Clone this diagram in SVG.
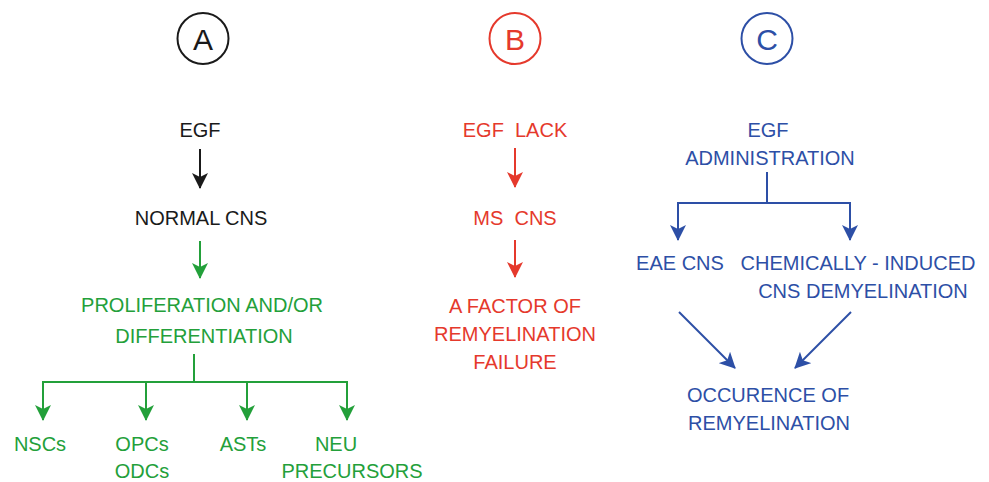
<svg xmlns="http://www.w3.org/2000/svg" width="989" height="482" viewBox="0 0 989 482">
<defs>
<style>
text{font-family:"Liberation Sans",Arial,sans-serif;font-size:20px;text-anchor:middle}
.k{fill:#1a1a1a}.g{fill:#23a03a}.r{fill:#e5392c}.b{fill:#2d4fa6}
.lk{stroke:#1a1a1a}.lg{stroke:#23a03a}.lr{stroke:#e5392c}.lb{stroke:#2d4fa6}
line,polyline,path.c{fill:none;stroke-width:2}
circle{fill:#fff;stroke-width:2}
.big{font-size:30px}
</style>
<marker id="ak" viewBox="0 0 16 16" refX="15" refY="8" markerWidth="16" markerHeight="16" markerUnits="userSpaceOnUse" orient="auto"><path d="M0,0 L16,8 L0,16 L4,8 z" fill="#1a1a1a"/></marker>
<marker id="ag" viewBox="0 0 16 16" refX="15" refY="8" markerWidth="16" markerHeight="16" markerUnits="userSpaceOnUse" orient="auto"><path d="M0,0 L16,8 L0,16 L4,8 z" fill="#23a03a"/></marker>
<marker id="ar" viewBox="0 0 16 16" refX="15" refY="8" markerWidth="16" markerHeight="16" markerUnits="userSpaceOnUse" orient="auto"><path d="M0,0 L16,8 L0,16 L4,8 z" fill="#e5392c"/></marker>
<marker id="ab" viewBox="0 0 16 16" refX="15" refY="8" markerWidth="16" markerHeight="16" markerUnits="userSpaceOnUse" orient="auto"><path d="M0,0 L16,8 L0,16 L4,8 z" fill="#2d4fa6"/></marker>
</defs>

<g id="labelA"><circle cx="203" cy="38.5" r="25.5" stroke="#1a1a1a"/><text class="k big" x="203" y="49.5">A</text></g>
<g id="labelB"><circle cx="515" cy="38.5" r="25.5" stroke="#e5392c"/><text class="r big" x="515" y="49.5">B</text></g>
<g id="labelC"><circle cx="767" cy="38.5" r="25.5" stroke="#2d4fa6"/><text class="b big" x="767" y="49.5">C</text></g>

<g id="connectors">
<line class="lk" x1="200" y1="149" x2="200" y2="188" marker-end="url(#ak)"/>
<line class="lg" x1="200" y1="241" x2="200" y2="278" marker-end="url(#ag)"/>
<line class="lg" x1="194" y1="354" x2="194" y2="382"/>
<line class="lg" x1="42" y1="382" x2="348" y2="382"/>
<line class="lg" x1="43" y1="381" x2="43" y2="420" marker-end="url(#ag)"/>
<line class="lg" x1="146" y1="381" x2="146" y2="420" marker-end="url(#ag)"/>
<line class="lg" x1="247" y1="381" x2="247" y2="420" marker-end="url(#ag)"/>
<line class="lg" x1="347" y1="381" x2="347" y2="420" marker-end="url(#ag)"/>
<line class="lr" x1="515" y1="148" x2="515" y2="187" marker-end="url(#ar)"/>
<line class="lr" x1="515" y1="240" x2="515" y2="277" marker-end="url(#ar)"/>
<line class="lb" x1="767" y1="172" x2="767" y2="203"/>
<line class="lb" x1="677" y1="203" x2="851" y2="203"/>
<line class="lb" x1="678" y1="202" x2="678" y2="240" marker-end="url(#ab)"/>
<line class="lb" x1="850" y1="202" x2="850" y2="240" marker-end="url(#ab)"/>
<line class="lb" x1="679" y1="312" x2="735" y2="368" marker-end="url(#ab)"/>
<line class="lb" x1="851" y1="312" x2="795" y2="368" marker-end="url(#ab)"/>
</g>

<g id="egfA"><text class="k" x="200" y="137">EGF</text></g>
<g id="normalCNS"><text class="k" x="201" y="225">NORMAL CNS</text></g>
<g id="prolif"><text class="g" x="202" y="312">PROLIFERATION AND/OR</text><text class="g" x="204" y="343">DIFFERENTIATION</text></g>
<g id="nscs"><text class="g" x="40" y="451">NSCs</text></g>
<g id="opcs"><text class="g" x="142" y="451">OPCs</text><text class="g" x="142" y="478">ODCs</text></g>
<g id="asts"><text class="g" x="243" y="451">ASTs</text></g>
<g id="neu"><text class="g" x="336" y="451">NEU</text><text class="g" x="352" y="478">PRECURSORS</text></g>

<g id="egfLack"><text class="r" x="515" y="137" xml:space="preserve">EGF  LACK</text></g>
<g id="msCNS"><text class="r" x="515" y="225" xml:space="preserve">MS  CNS</text></g>
<g id="factor"><text class="r" x="515" y="313">A FACTOR OF</text><text class="r" x="515" y="341">REMYELINATION</text><text class="r" x="515" y="369">FAILURE</text></g>

<g id="egfAdmin"><text class="b" x="768" y="137">EGF</text><text class="b" x="770" y="165">ADMINISTRATION</text></g>
<g id="eae"><text class="b" x="680" y="270">EAE CNS</text></g>
<g id="chem"><text class="b" x="858" y="270">CHEMICALLY - INDUCED</text><text class="b" x="863" y="298">CNS DEMYELINATION</text></g>
<g id="occur"><text class="b" x="768" y="402">OCCURENCE OF</text><text class="b" x="769" y="430">REMYELINATION</text></g>
</svg>
